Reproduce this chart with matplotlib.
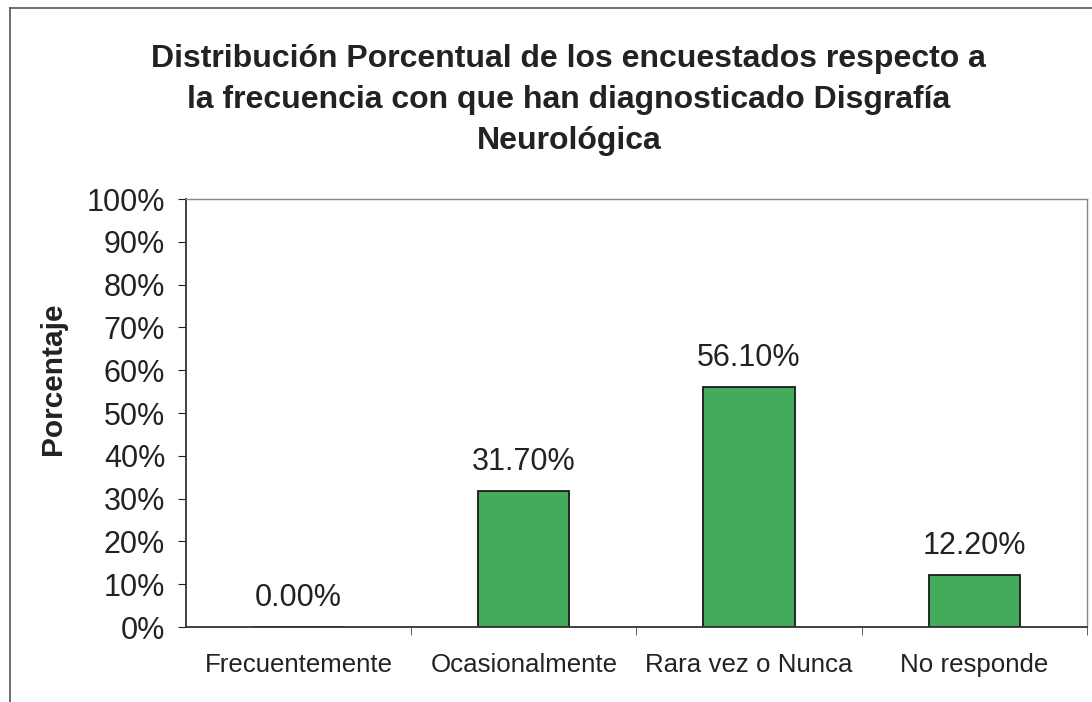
import matplotlib.pyplot as plt
from matplotlib.lines import Line2D
from matplotlib.ticker import PercentFormatter, FixedLocator

plt.rcParams['font.family'] = ['Liberation Sans', 'DejaVu Sans']

categorias = ['Frecuentemente', 'Ocasionalmente', 'Rara vez o Nunca', 'No responde']
porcentajes = [0.00, 31.70, 56.10, 12.20]
etiquetas = ['0.00%', '31.70%', '56.10%', '12.20%']

titulo = ('Distribución Porcentual de los encuestados respecto a\n'
          'la frecuencia con que han diagnosticado Disgrafía\n'
          'Neurológica')

fig = plt.figure(figsize=(10.92, 7.02), dpi=100)
ax = fig.add_axes([0.1703, 0.1068, 0.8251, 0.6097])

x = range(len(categorias))
ax.bar(x, porcentajes, width=0.405, color='#45ab5c', edgecolor='#1a1a1a', linewidth=1.3)

for xi, v, lab in zip(x, porcentajes, etiquetas):
    ax.annotate(lab, (xi, v), xytext=(0, 10), textcoords='offset points',
                ha='center', va='bottom', fontsize=22, color='#222222')

ax.set_xlim(-0.5, 3.5)
ax.set_ylim(0, 100)
ax.set_yticks(range(0, 101, 10))
ax.yaxis.set_major_formatter(PercentFormatter(decimals=0))
ax.set_xticks(list(x))
ax.set_xticklabels(categorias)
ax.xaxis.set_minor_locator(FixedLocator([0.5, 1.5, 2.5, 3.5]))
ax.tick_params(axis='x', which='major', length=0, labelsize=18.6, pad=19, colors='#222222')
ax.tick_params(axis='x', which='minor', length=6, direction='out', color='#444444')
ax.tick_params(axis='y', length=6, direction='out', labelsize=22, pad=9, colors='#222222')
ax.set_ylabel('Porcentaje', fontsize=21.5, fontweight='bold', color='#222222')
ax.yaxis.set_label_coords(-0.132, 0.579)

for s in ['top', 'right']:
    ax.spines[s].set_color('#888888')
    ax.spines[s].set_linewidth(1.0)
for s in ['left', 'bottom']:
    ax.spines[s].set_color('#333333')
    ax.spines[s].set_linewidth(1.3)

fig.text(0.521, 1 - 100 / 702, titulo, ha='center', va='center', fontsize=23,
         fontweight='bold', linespacing=1.5, color='#222222')

# outer chart border
fig.add_artist(Line2D([10 / 1092, 10 / 1092], [0.0, 1 - 8 / 702], color='#555555', lw=1.2))
fig.add_artist(Line2D([10 / 1092, 1.0], [1 - 8 / 702, 1 - 8 / 702], color='#555555', lw=1.2))

fig.savefig('out.png', dpi=100)
